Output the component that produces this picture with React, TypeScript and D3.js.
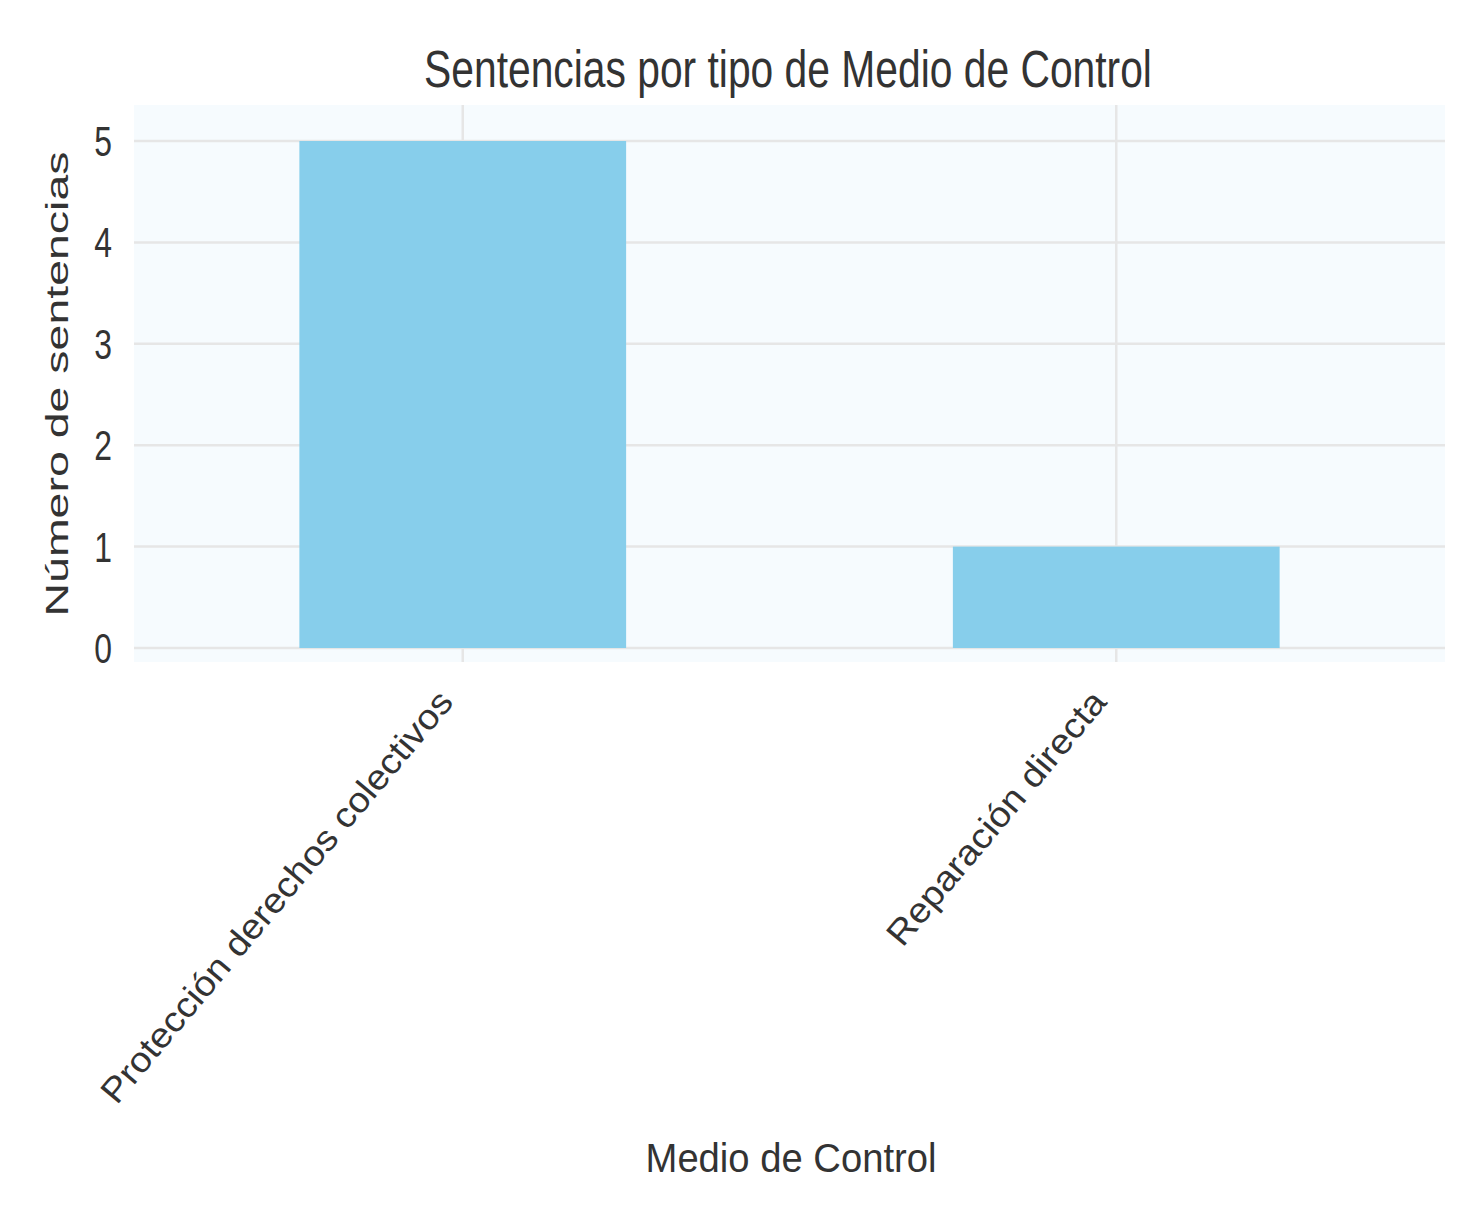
import React from "react";
import * as d3 from "d3";

// ---- data ----
const categories: string[] = ["Protección derechos colectivos", "Reparación directa"];
const counts: number[] = [5, 1];
const yTicks: number[] = [0, 1, 2, 3, 4, 5];
const title = "Sentencias por tipo de Medio de Control";
const xLabel = "Medio de Control";
const yLabel = "Número de sentencias";

// ---- layout ----
const W = 1460;
const H = 1221;
const plot = { left: 134, right: 1445, top: 105, bottom: 662 };
const yMin = -0.138;
const yMax = 5.355;
const FONT = "'Liberation Sans', Arial, Helvetica, sans-serif";
const TEXT = "#333333";
const GRID = "#e6e6e6";
const BAR = "#87CEEB";
const PLOT_BG = "#f6fbfe";

export default function App() {
  const x = d3
    .scaleBand<string>()
    .domain(categories)
    .range([136, 1443])
    .paddingInner(0.5)
    .paddingOuter(0.25);
  const y = d3.scaleLinear().domain([yMin, yMax]).range([plot.bottom, plot.top]);
  const bw = x.bandwidth();

  return (
    <svg
      width={W}
      height={H}
      viewBox={`0 0 ${W} ${H}`}
      style={{ position: "absolute", left: 0, top: 0, background: "#ffffff" }}
      fontFamily={FONT}
    >
      <rect x={0} y={0} width={W} height={H} fill="#ffffff" />
      {/* plot background */}
      <rect
        x={plot.left}
        y={plot.top}
        width={plot.right - plot.left}
        height={plot.bottom - plot.top}
        fill={PLOT_BG}
      />
      {/* horizontal grid */}
      {yTicks.map((t) => (
        <line
          key={"hg" + t}
          x1={plot.left}
          x2={plot.right}
          y1={y(t)}
          y2={y(t)}
          stroke={GRID}
          strokeWidth={2.5}
        />
      ))}
      {/* vertical grid */}
      {categories.map((c) => (
        <line
          key={"vg" + c}
          x1={(x(c) as number) + bw / 2}
          x2={(x(c) as number) + bw / 2}
          y1={plot.top}
          y2={plot.bottom}
          stroke={GRID}
          strokeWidth={2.5}
        />
      ))}
      {/* bars */}
      {categories.map((c, i) => (
        <rect
          key={"bar" + c}
          x={x(c) as number}
          y={y(counts[i])}
          width={bw}
          height={y(0) - y(counts[i])}
          fill={BAR}
        />
      ))}
      {/* y tick labels */}
      {yTicks.map((t) => (
        <g key={"yt" + t} transform={`translate(112, ${y(t) + 15}) scale(0.76, 1)`}>
          <text textAnchor="end" fontSize={42} fill={TEXT}>
            {d3.format("d")(t)}
          </text>
        </g>
      ))}
      {/* x tick labels */}
      {categories.map((c) => (
        <g
          key={"xt" + c}
          transform={`translate(${(x(c) as number) + bw / 2 - 8}, 703) rotate(-50) scale(1.09, 1)`}
        >
          <text textAnchor="end" fontSize={35} fill={TEXT}>
            {c}
          </text>
        </g>
      ))}
      {/* title */}
      <g transform={`translate(788, 87) scale(0.80, 1)`}>
        <text textAnchor="middle" fontSize={51} fill={TEXT}>
          {title}
        </text>
      </g>
      {/* x label */}
      <g transform={`translate(791, 1172) scale(0.955, 1)`}>
        <text textAnchor="middle" fontSize={40} fill={TEXT}>
          {xLabel}
        </text>
      </g>
      {/* y label */}
      <g transform={`translate(68, 384) rotate(-90) scale(1.5, 1)`}>
        <text textAnchor="middle" fontSize={31} fill={TEXT}>
          {yLabel}
        </text>
      </g>
    </svg>
  );
}
